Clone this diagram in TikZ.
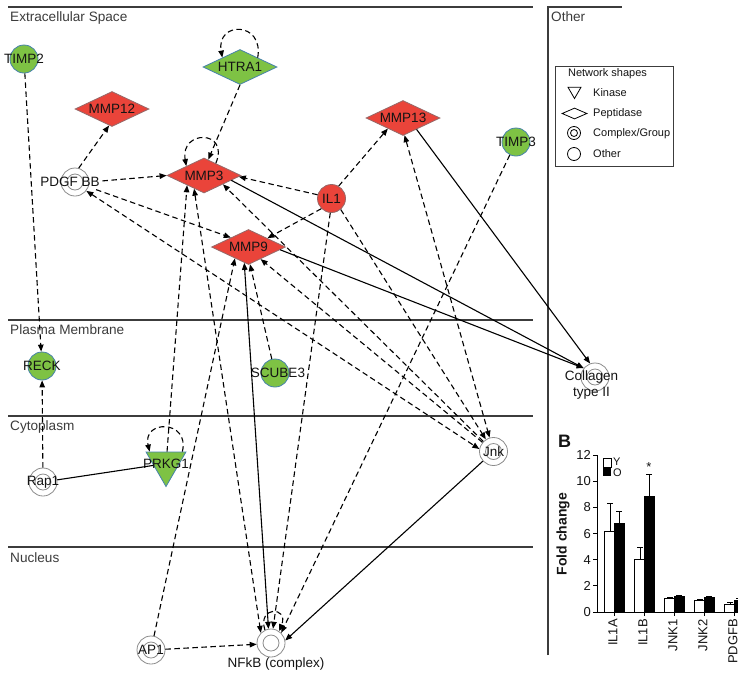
\documentclass[tikz,border=0pt]{standalone}
\usepackage{fontspec}
\setmainfont{Liberation Sans}
\usetikzlibrary{shapes.geometric,arrows.meta,calc}
\definecolor{ipared}{RGB}{234,68,58}
\definecolor{ipareddraw}{RGB}{150,105,105}
\definecolor{ipagreen}{RGB}{126,194,68}
\definecolor{ipagreendraw}{RGB}{70,130,170}
\definecolor{cxgray}{RGB}{140,140,140}
\definecolor{layergray}{RGB}{60,60,60}
\definecolor{txt}{RGB}{20,20,20}
\begin{document}
\begin{tikzpicture}[x=1pt,y=-1pt,
  lbl/.style={font=\fontsize{13.5}{15}\selectfont, text=txt, inner sep=0pt},
  regionlbl/.style={font=\fontsize{13.6}{15}\selectfont, text=layergray, anchor=base west, inner sep=0pt},
  layerline/.style={draw=layergray, line width=1.3pt},
  peptidase/.style={diamond, aspect=2, minimum width=74pt, minimum height=35pt, inner sep=0pt, line width=0.8pt, font=\fontsize{13.5}{15}\selectfont, text=txt},
  redp/.style={peptidase, fill=ipared, draw=ipareddraw},
  greenp/.style={peptidase, fill=ipagreen, draw=ipagreendraw},
  molec/.style={circle, minimum size=28pt, inner sep=0pt, line width=0.8pt},
  redc/.style={molec, fill=ipared, draw=ipareddraw},
  greenc/.style={molec, fill=ipagreen, draw=ipagreendraw},
  cplx/.style={molec, draw=cxgray, fill=white, path picture={\draw[cxgray, line width=0.8pt] (path picture bounding box.center) circle (8pt);}},
  kinase/.style={regular polygon, regular polygon sides=3, shape border rotate=180, minimum size=46pt, inner sep=0pt, fill=ipagreen, draw=ipagreendraw, line width=0.8pt},
  conn/.style={line width=1.1pt, draw=black},
  dsh/.style={conn, dash pattern=on 5.5pt off 3.5pt},
  arr/.style={arrows={-Triangle[length=7pt,width=5.5pt]}},
  arrtwo/.style={arrows={Triangle[length=7pt,width=5.5pt]-Triangle[length=7pt,width=5.5pt]}},
  legtxt/.style={font=\fontsize{11}{13}\selectfont, text=txt, anchor=west, inner sep=0pt},
  legtri/.style={regular polygon, regular polygon sides=3, shape border rotate=180, minimum size=15pt, inner sep=0pt, draw=black, line width=0.8pt},
  legdia/.style={diamond, minimum width=25pt, minimum height=11pt, inner sep=0pt, draw=black, line width=0.8pt},
  legcirc/.style={circle, minimum size=13pt, inner sep=0pt, draw=black, line width=0.8pt},
  legcx/.style={legcirc, path picture={\draw[black, line width=0.8pt] (path picture bounding box.center) circle (3.5pt);}},
  chart/.style={line width=0.9pt, draw=black},
  ticklbl/.style={font=\fontsize{13}{15}\selectfont, text=txt, inner sep=0pt}
]
\clip (0,0) rectangle (738,675);
\fill[white] (0,0) rectangle (738,675);

% compartments
\draw[layerline] (8,7) -- (533,7);
\draw[layerline] (8,320) -- (533,320);
\draw[layerline] (8,416) -- (533,416);
\draw[layerline] (8,547) -- (533,547);
\draw[layerline] (548,655) -- (548,7) -- (622,7);
\node[regionlbl] at (10,21.5) {Extracellular Space};
\node[regionlbl] at (551,21.5) {Other};
\node[regionlbl] at (10,334.5) {Plasma Membrane};
\node[regionlbl] at (10,430.5) {Cytoplasm};
\node[regionlbl] at (10,562) {Nucleus};

% nodes
\node[greenc, label={[lbl]center:TIMP2}] (timp2) at (24,59) {};
\node[greenp] (htra1) at (240,67) {HTRA1};
\node[redp] (mmp12) at (112,109) {MMP12};
\node[redp] (mmp13) at (403,118) {MMP13};
\node[greenc, label={[lbl]center:TIMP3}] (timp3) at (516,142) {};
\node[cplx, label={[lbl,xshift=-5pt]center:PDGF BB}] (pdgf) at (75,182) {};
\node[redp] (mmp3) at (204,175.5) {MMP3};
\node[redc, label={[lbl]center:IL1}] (il1) at (331.5,198.5) {};
\node[redp] (mmp9) at (248.5,247) {MMP9};
\node[greenc, label={[lbl]center:RECK}] (reck) at (42,366) {};
\node[greenc, label={[lbl,xshift=3pt]center:SCUBE3}] (scube3) at (275,373) {};
\node[cplx, label={[lbl,align=center,xshift=-3.5pt,yshift=-8pt,font=\fontsize{13.5}{16}\selectfont]center:{Collagen\\type II}}] (coll) at (595,377) {};
\node[cplx, label={[lbl]center:Jnk}] (jnk) at (493.5,451.5) {};
\node[cplx, label={[lbl]center:Rap1}] (rap1) at (43,482) {};
\node[kinase, label={[lbl]center:PRKG1}] (prkg1) at (166,463.5) {};
\node[cplx, label={[lbl]center:AP1}] (ap1) at (151,650) {};
\node[cplx, label distance=3pt, label={[lbl,xshift=5pt]below:NFkB (complex)}] (nfkb) at (271,643) {};

% self loops
\draw[dsh,arr] (htra1.28) .. controls ($(htra1.center)+(24,-46)$) and ($(htra1.center)+(-24,-46)$) .. (htra1.152);
\draw[dsh,arr] (mmp3.46) .. controls ($(mmp3.center)+(26,-46)$) and ($(mmp3.center)+(-24,-46)$) .. (mmp3.152);
\draw[dsh,arr] (prkg1.36) .. controls ($(prkg1.center)+(24,-44)$) and ($(prkg1.center)+(-24,-44)$) .. (prkg1.144);
\draw[dsh,arr] (nfkb.115) .. controls ($(nfkb.center)+(-14,-37)$) and ($(nfkb.center)+(18,-37)$) .. (nfkb.55);

% connectors
\draw[dsh,arr] (timp2) -- (reck);
\draw[dsh,arr] (rap1) -- (reck);
\draw[conn] (rap1) -- (prkg1);
\draw[dsh,arr] (prkg1.85) -- (mmp3.-150);
\draw[dsh,arr] (htra1.south) -- (mmp3.75);
\draw[dsh,arr] (pdgf.75) -- (mmp12.260);
\draw[dsh,arr,shorten <=13pt] (pdgf.east) -- (mmp3.west);
\draw[dsh,arr,shorten <=8pt] (pdgf.-20) -- (mmp9.152);
\draw[dsh,arrtwo] (pdgf.-38) -- (jnk.170);
\draw[dsh,arr] (il1.165) -- (mmp3.-2);
\draw[dsh,arr] (jnk) -- (mmp3.-25);
\draw[conn,arr] (mmp3.-10) -- (coll.142);
\draw[conn,arr] (mmp9.-5) -- (coll.142);
\draw[conn,arr] (mmp13.-40) -- (coll.110);
\draw[dsh,arr] (il1.60) -- (mmp13.215);
\draw[dsh,arrtwo] (mmp13.-85) -- (jnk);
\draw[dsh,arr] (il1.225) -- (mmp9.25);
\draw[dsh,arr] (il1.265) -- (nfkb.82);
\draw[dsh,arr] (il1.-50) -- (jnk);
\draw[dsh,arr] (jnk) -- (mmp9.-45);
\draw[dsh,arr] (scube3) -- (mmp9.-85);
\draw[dsh,arr] (ap1) -- (mmp9.-140);
\draw[conn,arrtwo] (mmp9.-105) -- (nfkb.100);
\draw[dsh,arrtwo] (mmp3.-127) -- (nfkb.135);
\draw[dsh,arr] (timp3) -- (nfkb.45);
\draw[dsh,arr] (ap1) -- (nfkb.185);
\draw[conn,arr] (jnk) -- (nfkb.10);

% legend
\draw[draw=layergray, line width=1pt] (555,66) rectangle (673,166);
\node[font=\fontsize{11}{13}\selectfont, text=txt, inner sep=0pt] (legtitle) at (607.5,74) {Network shapes};
\node[legtri] (lk) at (574.5,91) {};
\node[legtxt] at (593,93) {Kinase};
\node[legdia] (lp) at (574.5,113.5) {};
\node[legtxt] at (593,114) {Peptidase};
\node[legcx] (lc) at (574,133) {};
\node[legtxt] at (593,133.5) {Complex/Group};
\node[legcirc] (lo) at (574,154) {};
\node[legtxt] at (593,154) {Other};

% panel B
\node[font=\bfseries\fontsize{18}{20}\selectfont, text=txt, inner sep=0pt] at (564.5,441.5) {B};
\node[rotate=90, font=\bfseries\fontsize{14}{16}\selectfont, text=txt, inner sep=0pt] at (563,534) {Fold change};
\foreach \v in {0,2,...,12} {
  \draw[chart] (593,{612-\v*13.08}) -- (597,{612-\v*13.08});
  \node[ticklbl, anchor=east] at (591,{612-\v*13.08}) {\v};
}
\foreach \i/\yv/\ye/\ov/\oe/\nm in {0/6.15/8.3/6.75/7.7/IL1A, 1/4.05/4.95/8.87/10.5/IL1B, 2/1.02/1.08/1.22/1.3/JNK1, 3/0.87/0.95/1.1/1.2/JNK2, 4/0.6/0.75/0.87/1.05/PDGFB} {
  \pgfmathsetmacro\xl{604+30*\i}
  \draw[chart, line width=0.8pt] (\xl+6,{612-\yv*13.08}) -- (\xl+6,{612-\ye*13.08}) ++(-3,0) -- ++(6,0);
  \draw[chart, line width=0.8pt] (\xl+15,{612-\ov*13.08}) -- (\xl+15,{612-\oe*13.08}) ++(-3,0) -- ++(6,0);
  \draw[chart, line width=0.8pt, fill=white] (\xl,612) rectangle (\xl+10,{612-\yv*13.08});
  \draw[chart, line width=0.8pt, fill=black] (\xl+10,612) rectangle (\xl+20,{612-\ov*13.08});
  \draw[chart] (\xl+10,612) -- (\xl+10,616);
  \node[ticklbl, rotate=90, anchor=east] at (\xl+9,619) {\nm};
}
\draw[chart] (597,455) -- (597,612) -- (745,612);
\node[ticklbl] at (649,467) {*};
\draw[chart, line width=0.8pt, fill=white] (603,458) rectangle (611,467);
\fill[black] (603,467) rectangle (611,476);
\node[ticklbl, anchor=west, font=\fontsize{11}{12}\selectfont] at (613,462) {Y};
\node[ticklbl, anchor=west, font=\fontsize{11}{12}\selectfont] at (613,472.5) {O};
\end{tikzpicture}
\end{document}
